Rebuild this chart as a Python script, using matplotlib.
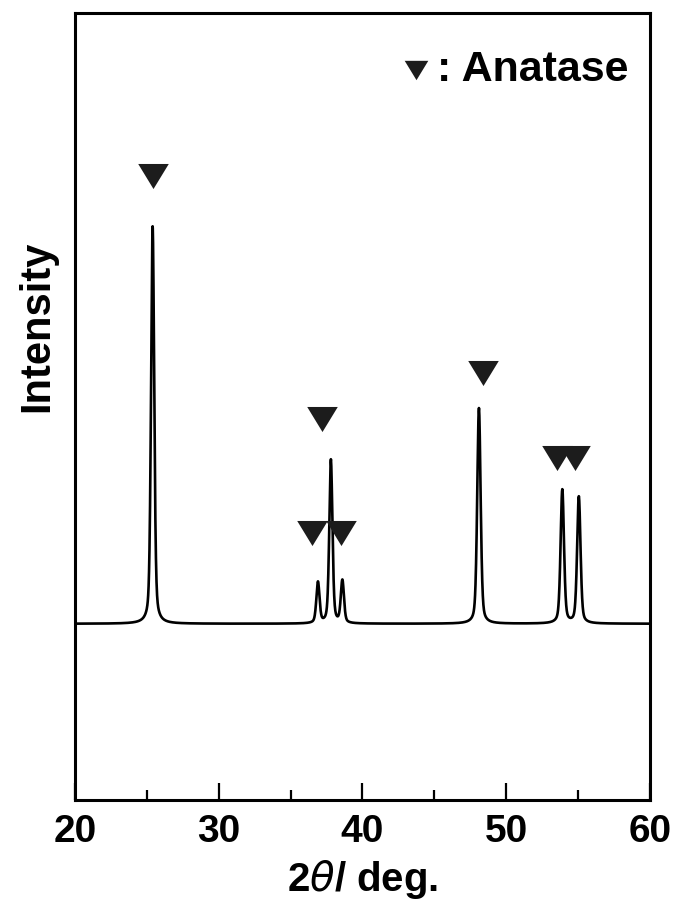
import numpy as np
import matplotlib
matplotlib.use('Agg')
import matplotlib.pyplot as plt

plt.rcParams['font.family'] = ['Liberation Sans', 'DejaVu Sans']
plt.rcParams['mathtext.fontset'] = 'dejavusans'

# Anatase reflections: position (2theta, deg), height above background (a.u.)
peak_pos = [25.4, 36.9, 37.8, 38.6, 48.1, 53.9, 55.05]
peak_height = [505, 52, 208, 54, 274, 170, 161]
peak_fwhm = [0.26, 0.26, 0.26, 0.26, 0.28, 0.28, 0.28]
background = 224

# Marker positions (2theta, intensity) for the peak labels
mark_x = [25.45, 37.2, 36.5, 38.5, 48.35, 53.5, 54.8]
mark_y = [793, 484, 339, 339, 543, 435, 435]

# pseudo-Voigt profile built from the peak list
two_theta = np.linspace(20, 60, 4001)
intensity = np.full_like(two_theta, float(background))
eta = 0.4
for p, h, w in zip(peak_pos, peak_height, peak_fwhm):
    d = (two_theta - p) / w
    lor = 1.0 / (1.0 + 4.0 * d ** 2)
    gau = np.exp(-4.0 * np.log(2) * d ** 2)
    intensity += h * (eta * lor + (1 - eta) * gau)

# downward triangle, wider than tall
tri = [(-1.0, 0.82), (1.0, 0.82), (0.0, -0.82), (-1.0, 0.82)]

fig = plt.figure(figsize=(6.77, 9.11), dpi=100)
ax = fig.add_axes([0.1108, 0.1218, 0.8493, 0.8639])

ax.plot(two_theta, intensity, color='black', lw=1.9)
ax.plot(mark_x, mark_y, linestyle='none', marker=tri, markersize=22,
        color='#1c1c1c', markeredgewidth=0)

# legend-like annotation
ax.plot([0.593], [0.928], transform=ax.transAxes, marker=tri, markersize=17,
        color='#1c1c1c', markeredgewidth=0, clip_on=False)
ax.text(0.630, 0.927, ': Anatase', transform=ax.transAxes, fontsize=31,
        fontweight='bold', ha='left', va='center')

ax.set_xlim(20, 60)
ax.set_ylim(0, 1000)
ax.set_xticks([20, 30, 40, 50, 60])
ax.set_xticks([25, 35, 45, 55], minor=True)
ax.set_yticks([])
ax.tick_params(axis='x', which='major', direction='in', length=12, width=1.6,
               labelsize=28, pad=10)
ax.tick_params(axis='x', which='minor', direction='in', length=7, width=1.6)
for lbl in ax.get_xticklabels():
    lbl.set_fontweight('bold')
for s in ax.spines.values():
    s.set_linewidth(2.2)

ax.set_xlabel(r'2$\theta$/ deg.', fontsize=29, fontweight='bold', labelpad=6)
ax.set_ylabel('Intensity', fontsize=30, fontweight='bold')
ax.yaxis.set_label_coords(-0.031, 0.602)

fig.savefig('out.png', dpi=100)
